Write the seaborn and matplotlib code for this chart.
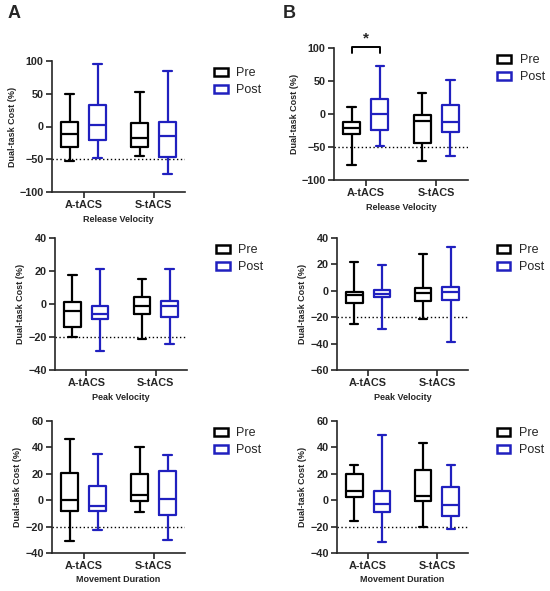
import seaborn as sns
import matplotlib.pyplot as plt
import numpy as np
import pandas as pd
from matplotlib.patches import Patch

sns.set_style('ticks')
plt.rcParams['font.family'] = ['Liberation Sans', 'DejaVu Sans']

groups = ['A-tACS', 'S-tACS']
times = ['Pre', 'Post']

# five-number summaries (min, q1, median, q3, max) for A-tACS, S-tACS
A_rel_pre = [[-52, -32, -12, 7, 50], [-45, -32, -18, 5, 52]]
A_rel_post = [[-48, -21, 3, 33, 95], [-72, -46, -15, 7, 85]]
A_peak_pre = [[-20, -14, -4, 1.5, 17.5], [-21.5, -6, -1.5, 4, 15]]
A_peak_post = [[-28.5, -9, -6, -1, 21], [-24, -8, -1, 2, 21]]
A_dur_pre = [[-31, -8, 0.5, 20.5, 46], [-9, -0.5, 4, 19.5, 40]]
A_dur_post = [[-22.5, -8, -4.5, 10.5, 35], [-30, -11.5, 1, 22.5, 34.5]]

B_rel_pre = [[-78, -31, -21, -12, 11], [-71, -44, -11, -1.5, 32]]
B_rel_post = [[-48, -24, 0, 23, 72], [-63, -28, -12, 13, 51]]
B_peak_pre = [[-25, -9.6, -3, -1, 21.5], [-21, -8, -2, 2, 28]]
B_peak_post = [[-28.6, -5, -2.5, 0.3, 19.7], [-38.5, -7.3, -1, 3, 33.5]]
B_dur_pre = [[-15.6, 2.3, 7.3, 19.7, 27], [-20, -0.3, 3.5, 22.7, 43.6]]
B_dur_post = [[-32, -8.8, -2.8, 7.3, 49.4], [-22, -11.6, -3.3, 10.3, 26.5]]

xlabels = ['Release Velocity', 'Peak Velocity', 'Movement Duration']
ylims = [[(-100, 100), (-40, 40), (-40, 60)], [(-100, 100), (-60, 40), (-40, 60)]]
yticks = [[[-100, -50, 0, 50, 100], [-40, -20, 0, 20, 40], [-40, -20, 0, 20, 40, 60]],
          [[-100, -50, 0, 50, 100], [-60, -40, -20, 0, 20, 40], [-40, -20, 0, 20, 40, 60]]]
ref_lines = [[-50, -20, -20], [-50, -20, -20]]
panels = [[(A_rel_pre, A_rel_post), (A_peak_pre, A_peak_post), (A_dur_pre, A_dur_post)],
          [(B_rel_pre, B_rel_post), (B_peak_pre, B_peak_post), (B_dur_pre, B_dur_post)]]

pal = {'Pre': 'black', 'Post': '#2020bf'}

positions = [
    [[52, 61, 133, 131], [55, 238, 132, 132], [52, 421, 133, 132]],
    [[334, 48, 134, 132], [337, 238, 131, 132], [337, 421, 131, 132]],
]

W, H = 550, 591
fig = plt.figure(figsize=(W / 100, H / 100), dpi=100)

for c in range(2):
    for r in range(3):
        x0, y0, w, h = positions[c][r]
        ax = fig.add_axes([x0 / W, 1 - (y0 + h) / H, w / W, h / H])
        pre, post = panels[c][r]
        rows = []
        for gi, g in enumerate(groups):
            for v in pre[gi]:
                rows.append((g, 'Pre', v))
            for v in post[gi]:
                rows.append((g, 'Post', v))
        df = pd.DataFrame(rows, columns=['group', 'time', 'value'])
        sns.boxplot(data=df, x='group', y='value', hue='time', hue_order=times,
                    order=groups, palette=pal, fill=False, whis=(0, 100),
                    width=0.8, gap=0.4, linewidth=1.6, legend=False, ax=ax)
        ax.axhline(ref_lines[c][r], color='black', ls=(0, (1, 1.8)), lw=1, zorder=0)
        ax.set_xlim(-0.45, 1.45)
        ax.set_ylim(*ylims[c][r])
        ax.set_yticks(yticks[c][r])
        ax.set_xlabel(xlabels[r], fontsize=6.5, fontweight='bold', labelpad=3)
        ax.set_ylabel('Dual-task Cost (%)', fontsize=6.5, fontweight='bold', labelpad=2)
        for lab in ax.get_xticklabels() + ax.get_yticklabels():
            lab.set_fontweight('bold')
        ax.tick_params(labelsize=7.8, width=1.2, length=4, pad=2)
        sns.despine(ax=ax)
        for s in ['left', 'bottom']:
            ax.spines[s].set_linewidth(1.2)
        handles = [Patch(facecolor='white', edgecolor=pal[t], linewidth=1.8, label=t) for t in times]
        ax.legend(handles=handles, loc='upper left', bbox_to_anchor=(1.18, 0.99),
                  frameon=False, fontsize=9, handlelength=1.1, handleheight=0.55,
                  handletextpad=0.7, labelspacing=0.4, borderaxespad=0)

        if c == 1 and r == 0:
            # significance bracket between Pre and Post of A-tACS
            xa, xb = -0.2, 0.2
            ax.plot([xa, xa, xb, xb], [92, 101, 101, 92], color='black', lw=1.4, clip_on=False)
            ax.text(0, 104, '*', ha='center', va='bottom', fontsize=11, fontweight='bold')

fig.text(8 / W, 1 - 5 / H, 'A', fontsize=13, fontweight='bold', va='top')
fig.text(283 / W, 1 - 5 / H, 'B', fontsize=13, fontweight='bold', va='top')

fig.savefig('out.png', dpi=100)
